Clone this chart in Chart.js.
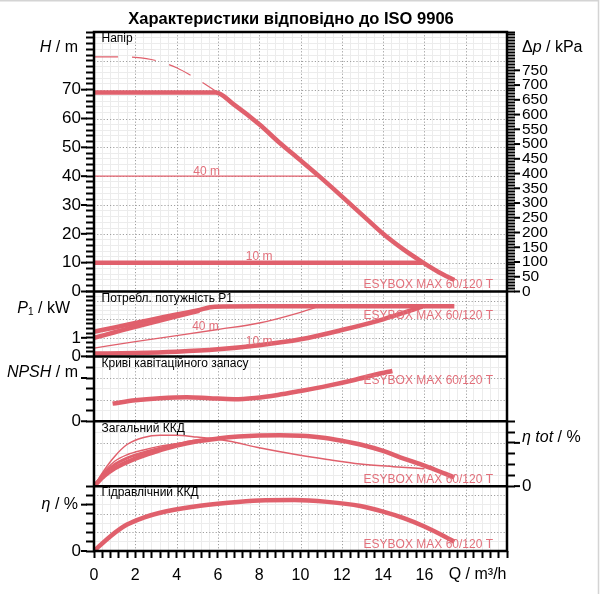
<!DOCTYPE html>
<html>
<head>
<meta charset="utf-8">
<script src="https://cdn.jsdelivr.net/npm/chart.js@4.4.0/dist/chart.umd.min.js"></script>
<style>
html,body{margin:0;padding:0;background:#fff;}
#wrap{width:600px;height:594px;position:relative;}
canvas{display:block;}
</style>
</head>
<body>
<div id="wrap"><canvas id="c" width="600" height="594"></canvas></div>
<script>
// ================= DATA =================
// tick labels
const qTickLabels      = [0, 2, 4, 6, 8, 10, 12, 14, 16];
const headTickLabels   = [0, 10, 20, 30, 40, 50, 60, 70];
const kpaTickLabels    = [0, 50, 100, 150, 200, 250, 300, 350, 400, 450, 500, 550, 600, 650, 700, 750];
const powerTickLabels  = [0, 1];
const npshTickLabels   = [0];
const etaTotTickLabels = [0];
const etaHydTickLabels = [0];

// Head H / m
const headMaxQ  = [0, 2, 4, 5.9, 6.75, 8, 9, 10, 10.9, 12, 13, 14, 15, 15.9, 16.7, 17.45];
const headMax   = [69, 69, 69, 69, 65, 58, 51.5, 45.5, 40, 33, 26.5, 20, 14.5, 10.2, 6.7, 4];
const headDashQ = [0, 1, 2, 3, 4, 5, 5.94];
const headDash  = [81.4, 81.4, 81.2, 80.1, 77.6, 73.6, 69.3];
const head40Q   = [0, 10.9];
const head40    = [40, 40];
const head10Q   = [0, 15.9];
const head10    = [10, 10];

// Power P1 / kW
const powerMaxQ = [0, 1, 2, 3, 4, 5, 5.85, 8, 12, 17.45];
const powerMax  = [1.33, 1.56, 1.8, 2.03, 2.26, 2.48, 2.68, 2.7, 2.7, 2.7];
const powerBQ   = [0, 1, 2, 3, 4, 5.1];
const powerB    = [1.0, 1.3, 1.6, 1.88, 2.16, 2.46];
const power40Q  = [0, 2, 4, 6, 8, 10, 10.9];
const power40   = [0.45, 0.8, 1.12, 1.45, 1.8, 2.38, 2.7];
const power10Q  = [0, 2, 4, 6, 8, 10, 12, 14, 15.9];
const power10   = [0.15, 0.18, 0.25, 0.38, 0.6, 0.92, 1.42, 2.0, 2.68];

// NPSH / m
const npshQ = [0.9, 2, 3.2, 4.5, 5.6, 6.8, 7.8, 8.9, 10, 11.3, 12.6, 13.7, 14.45];
const npsh  = [1.63, 1.94, 2.13, 2.22, 2.13, 2.04, 2.16, 2.43, 2.8, 3.27, 3.82, 4.35, 4.65];

// total efficiency / %
const etaTotQ     = [0, 0.5, 1, 2, 3, 4, 5, 6, 7, 8, 9, 10, 11, 12, 13, 14, 15, 16, 17, 17.45];
const etaTot      = [0, 9.5, 16.5, 25.5, 32, 37.5, 41.5, 44, 45.8, 46.8, 47, 46.5, 45, 42, 38, 32.5, 25.5, 19, 11.5, 8];
const etaTotCQ    = [0, 0.5, 1, 1.6, 2.4, 3.2, 4, 4.8, 5.7];
const etaTotC     = [0, 11.5, 20, 26, 31, 35, 38.5, 41.5, 43.5];
const etaTotDQ    = [0, 0.5, 1, 1.6, 2.4, 3.2, 4.2];
const etaTotD     = [0, 13.5, 23, 29, 33.5, 37, 40];
const etaTotThinQ = [0, 0.5, 1, 1.6, 2.4, 3.2, 4, 4.8, 6.5, 8, 9.7, 11.3, 12.9, 14.5, 16];
const etaTotThin  = [0, 15, 27.5, 38.5, 45, 47, 47, 45.7, 41.7, 35.5, 29.5, 24.7, 20.5, 18, 16];

// hydraulic efficiency / %
const etaHydQ = [0, 0.8, 1.6, 2.4, 3.2, 4.8, 6.5, 8, 9.7, 11.3, 12.9, 14, 15, 16, 17, 17.45];
const etaHyd  = [0, 16, 28.5, 36, 41.3, 47.7, 52, 54.5, 55, 53, 48.5, 42.5, 35.5, 26.5, 15.5, 10];

// ================= STYLE / LAYOUT =================
const F = '"Liberation Sans", Arial, Helvetica, sans-serif';
const RED = '#e0606c';
const RED_TXT = '#e2707b';
const LEFT_W = 94, RIGHT_W = 93, BOTTOM_H = 43, TOP_PAD = 32;

function pts(qs, vs) { return qs.map((q, i) => ({x: q, y: vs[i]})); }
function isMult(v, step) { const r = v / step; return Math.abs(r - Math.round(r)) < 1e-6; }
function near(list, v) { return list.some(l => Math.abs(l - v) < 1e-6); }

function ds(axis, qs, vs, w, dash) {
  return {
    yAxisID: axis, xAxisID: 'x', data: pts(qs, vs),
    borderColor: RED, backgroundColor: RED, borderWidth: w, borderDash: dash || [],
    pointRadius: 0, pointHoverRadius: 0, fill: false,
    cubicInterpolationMode: 'monotone'
  };
}

function gridOpts(major, tickLen) {
  return {
    drawOnChartArea: true, drawTicks: true,
    color: c => (c.tick && isMult(c.tick.value, major)) ? 'rgba(0,0,0,0)' : '#ececec',
    lineWidth: 1, tickColor: '#000', tickWidth: 2, tickLength: tickLen
  };
}
const tickFont = {family: F, size: 17};

function leftAxis(weight, sw, min, max, step, major, labels) {
  return {
    type: 'linear', position: 'left', stack: 'L', stackWeight: sw, weight: weight, min: min, max: max,
    ticks: {stepSize: step, autoSkip: false, padding: 5, color: '#000', font: tickFont,
            callback: v => near(labels, v) ? String(Math.round(v)) : ''},
    grid: gridOpts(major, 8), border: {display: false},
    afterFit: s => { s.width = LEFT_W; }
  };
}
function blankAxis(pos, stack, weight, sw) {
  return {
    type: 'linear', position: pos, stack: stack, stackWeight: sw, weight: weight, min: 0, max: 1,
    ticks: {display: false}, grid: {display: false}, border: {display: false},
    afterFit: s => { s.width = pos === 'left' ? LEFT_W : RIGHT_W; }
  };
}

function richText(ctx, parts, x, y, align) {
  let total = 0;
  for (const p of parts) {
    ctx.font = (p.it ? 'italic ' : '') + (p.sz || 16) + 'px ' + F;
    p.w = ctx.measureText(p.t).width; total += p.w;
  }
  let cx = align === 'right' ? x - total : x;
  ctx.textAlign = 'left'; ctx.textBaseline = 'middle'; ctx.fillStyle = '#000';
  for (const p of parts) {
    ctx.font = (p.it ? 'italic ' : '') + (p.sz || 16) + 'px ' + F;
    ctx.fillText(p.t, cx, y + (p.dy || 0));
    cx += p.w;
  }
}

const deco = {
  id: 'deco',
  beforeDatasetsDraw(chart) {
    const {ctx, chartArea: a, scales: s} = chart;
    ctx.save();
    ctx.strokeStyle = '#a0a0a0'; ctx.lineWidth = 1; ctx.setLineDash([1.2, 2]);
    const seg = (x1, y1, x2, y2) => { ctx.beginPath(); ctx.moveTo(x1, y1); ctx.lineTo(x2, y2); ctx.stroke(); };
    for (let q = 2; q < 20 - 1e-9; q += 2) {
      const x = Math.round(s.x.getPixelForValue(q)) + 0.5; seg(x, a.top, x, a.bottom);
    }
    const majors = [['yH', 10], ['yP', 1], ['yN', 2], ['rT', 20], ['yE', 20]];
    for (const [id, step] of majors) {
      const sc = s[id];
      for (let v = step; v < sc.max - 1e-9; v += step) {
        const y = Math.round(sc.getPixelForValue(v)) + 0.5; seg(a.left, y, a.right, y);
      }
    }
    ctx.restore();
  },
  afterDatasetsDraw(chart) {
    const {ctx, chartArea: a, scales: s} = chart;
    ctx.save();
    // frame
    ctx.strokeStyle = '#000'; ctx.lineWidth = 2.5; ctx.setLineDash([]);
    ctx.strokeRect(a.left, a.top, a.right - a.left, a.bottom - a.top);
    for (const id of ['yP', 'yN', 'yT', 'yE']) {
      const y = s[id].top; ctx.beginPath(); ctx.moveTo(a.left, y); ctx.lineTo(a.right, y); ctx.stroke();
    }
    // longer major tick marks
    ctx.lineWidth = 2;
    const leftMaj = [['yH', headTickLabels], ['yP', powerTickLabels], ['yN', [0, 4]], ['yE', [0, 50]]];
    for (const [id, list] of leftMaj) for (const v of list) {
      const y = s[id].getPixelForValue(v); ctx.beginPath(); ctx.moveTo(a.left - 13, y); ctx.lineTo(a.left - 7, y); ctx.stroke();
    }
    const rightMaj = [['rH', kpaTickLabels], ['rT', [0, 40]]];
    for (const [id, list] of rightMaj) for (const v of list) {
      const y = s[id].getPixelForValue(v); ctx.beginPath(); ctx.moveTo(a.right + 7, y); ctx.lineTo(a.right + 13, y); ctx.stroke();
    }
    // outer light border (top, right)
    ctx.strokeStyle = '#d4d4d4'; ctx.lineWidth = 1.5;
    ctx.beginPath(); ctx.moveTo(0, 0.75); ctx.lineTo(598.5, 0.75); ctx.lineTo(598.5, 594); ctx.stroke();

    // title
    ctx.fillStyle = '#000'; ctx.textAlign = 'center'; ctx.textBaseline = 'alphabetic';
    ctx.font = 'bold 16.5px ' + F;
    ctx.fillText('Характеристики відповідно до ISO 9906', 291, 23.5);

    // panel labels
    ctx.font = '12px ' + F; ctx.textAlign = 'left'; ctx.textBaseline = 'middle';
    const panels = [['yH', 'Напір'], ['yP', 'Потребл. потужність P1'], ['yN', 'Криві кавітаційного запасу'],
                    ['yT', 'Загальний ККД'], ['yE', 'Гідравлічний ККД']];
    for (const [id, t] of panels) ctx.fillText(t, a.left + 7.5, s[id].top + 7);

    // model labels
    ctx.fillStyle = RED_TXT; ctx.textAlign = 'right'; ctx.font = '12px ' + F;
    const model = 'ESYBOX MAX 60/120 T';
    const modelPos = [['yH', 2.2], ['yP', 2.17], ['yN', 3.75], ['rT', 5.7], ['yE', 6.5]];
    for (const [id, v] of modelPos) ctx.fillText(model, a.right - 14, s[id].getPixelForValue(v));

    // curve labels
    ctx.textAlign = 'center'; ctx.textBaseline = 'alphabetic';
    const cl = [['40 m', 'yH', 5.45, 40, -1], ['10 m', 'yH', 8.0, 10, -2.5], ['40 m', 'yP', 5.4, 1.4, 0], ['10 m', 'yP', 8.0, 0.62, 0]];
    for (const [t, id, q, v, dy] of cl) ctx.fillText(t, s.x.getPixelForValue(q), s[id].getPixelForValue(v) + dy);

    // axis titles
    richText(ctx, [{t: 'H', it: true}, {t: ' / m'}], a.left - 16, s.yH.getPixelForValue(84.5), 'right');
    richText(ctx, [{t: 'Δ'}, {t: 'p', it: true}, {t: ' / kPa'}], a.right + 15, s.yH.getPixelForValue(84.5), 'left');
    richText(ctx, [{t: 'P', it: true}, {t: '1', sz: 10, dy: 4}, {t: ' / kW'}], a.left - 24, s.yP.getPixelForValue(2.6), 'right');
    richText(ctx, [{t: 'NPSH', it: true}, {t: ' / m'}], a.left - 16, s.yN.getPixelForValue(4.5), 'right');
    richText(ctx, [{t: 'η tot', it: true}, {t: ' / %'}], a.right + 15, s.rT.getPixelForValue(44.5), 'left');
    richText(ctx, [{t: 'η', it: true}, {t: ' / %'}], a.left - 16, s.yE.getPixelForValue(50.5), 'right');
    richText(ctx, [{t: 'Q / m³/h'}], a.right - 0.5, a.bottom + 24, 'right');
    ctx.restore();
  }
};

new Chart(document.getElementById('c'), {
  type: 'line',
  data: {
    datasets: [
      ds('yH', headDashQ, headDash, 1.2, [24, 14]),
      ds('yH', head40Q, head40, 1.3),
      ds('yH', head10Q, head10, 4.5),
      ds('yH', headMaxQ, headMax, 4.5),
      ds('yP', power40Q, power40, 1.3),
      ds('yP', power10Q, power10, 4.5),
      ds('yP', powerBQ, powerB, 4.5),
      ds('yP', powerMaxQ, powerMax, 4.5),
      ds('yN', npshQ, npsh, 4.5),
      ds('rT', etaTotThinQ, etaTotThin, 1.5),
      ds('rT', etaTotDQ, etaTotD, 1.5),
      ds('rT', etaTotCQ, etaTotC, 3),
      ds('rT', etaTotQ, etaTot, 4.5),
      ds('yE', etaHydQ, etaHyd, 4.5)
    ]
  },
  options: {
    responsive: false, animation: false, devicePixelRatio: 1,
    layout: {padding: {top: TOP_PAD, left: 0, right: 0, bottom: 0}},
    plugins: {legend: {display: false}, tooltip: {enabled: false}, title: {display: false}},
    events: [],
    scales: {
      x: {
        type: 'linear', position: 'bottom', min: 0, max: 20,
        ticks: {stepSize: 0.4, autoSkip: false, maxRotation: 0, minRotation: 0, padding: 8, color: '#000', font: {family: F, size: 16},
                callback: v => near(qTickLabels, v) ? String(Math.round(v)) : ''},
        grid: gridOpts(2, 7), border: {display: false},
        afterFit: s => { s.height = BOTTOM_H; }
      },
      yH: leftAxis(5, 4, 0, 90, 2, 10, headTickLabels),
      yP: leftAxis(4, 1, 0, 3.5, 0.25, 1, powerTickLabels),
      yN: leftAxis(3, 1, 0, 6, 1, 2, npshTickLabels),
      yT: blankAxis('left', 'L', 2, 1),
      yE: leftAxis(1, 1, 0, 70, 10, 20, etaHydTickLabels),
      rH: {
        type: 'linear', position: 'right', stack: 'R', stackWeight: 4, weight: 1, min: 0, max: 880,
        ticks: {stepSize: 10, autoSkip: false, padding: 7, color: '#000', font: {family: F, size: 15.5},
                callback: v => near(kpaTickLabels, v) ? String(Math.round(v)) : ''},
        grid: {drawOnChartArea: false, drawTicks: true, tickColor: '#000', tickWidth: 2, tickLength: 8},
        border: {display: false},
        afterFit: s => { s.width = RIGHT_W; }
      },
      rP: blankAxis('right', 'R', 2, 1),
      rN: blankAxis('right', 'R', 3, 1),
      rT: {
        type: 'linear', position: 'right', stack: 'R', stackWeight: 1, weight: 4, min: 0, max: 60,
        ticks: {stepSize: 10, autoSkip: false, padding: 7, color: '#000', font: tickFont,
                callback: v => near(etaTotTickLabels, v) ? String(Math.round(v)) : ''},
        grid: gridOpts(20, 8), border: {display: false},
        afterFit: s => { s.width = RIGHT_W; }
      },
      rE: blankAxis('right', 'R', 5, 1)
    }
  },
  plugins: [deco]
});
</script>
</body>
</html>
